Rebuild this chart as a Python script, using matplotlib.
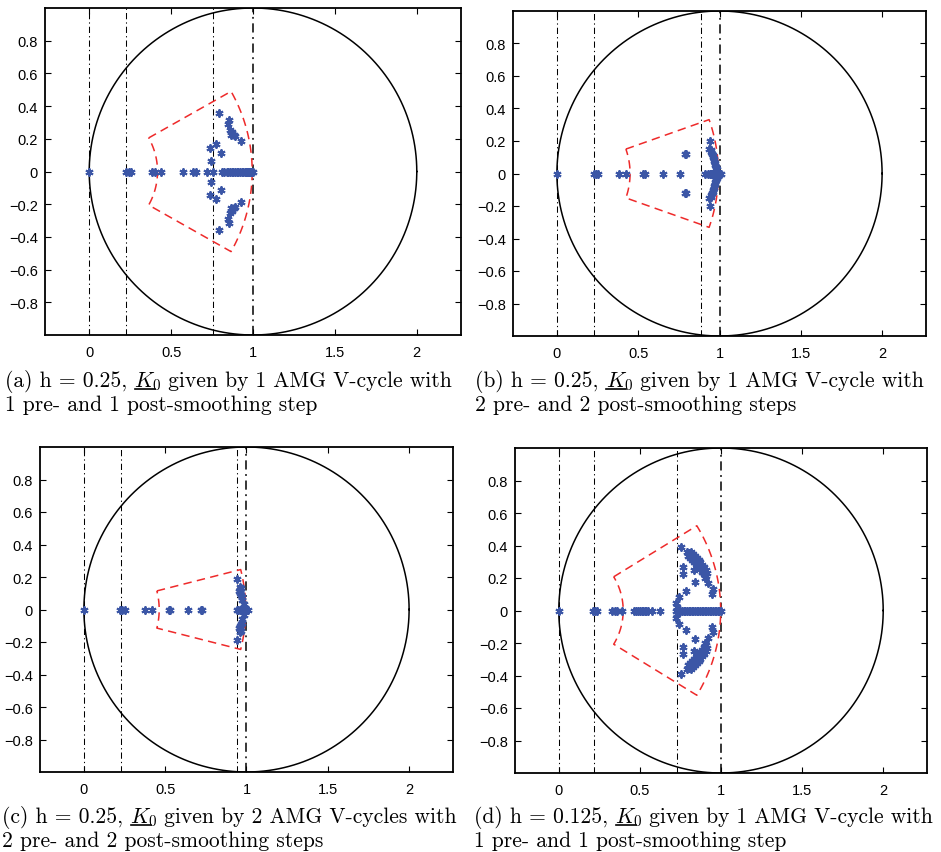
import numpy as np
import matplotlib
matplotlib.use("Agg")
import matplotlib.pyplot as plt
from matplotlib.lines import Line2D

plt.rcParams['mathtext.fontset'] = 'cm'
plt.rcParams['font.family'] = ['Liberation Sans', 'DejaVu Sans']
plt.rcParams['axes.unicode_minus'] = True

# ---------------- data ----------------
x_ticks = [0, 0.5, 1, 1.5, 2]
x_tick_labels = ['0', '0.5', '1', '1.5', '2']
y_ticks = [-0.8, -0.6, -0.4, -0.2, 0, 0.2, 0.4, 0.6, 0.8]
y_tick_labels = ['\u22120.8', '\u22120.6', '\u22120.4', '\u22120.2', '0', '0.2', '0.4', '0.6', '0.8']

# (a) h = 0.25, 1 V-cycle, 1+1 smoothing
a_real = [0.0, 0.226, 0.24, 0.255, 0.385, 0.40, 0.44, 0.57, 0.635, 0.65, 0.72, 0.758,
          0.81, 0.825, 0.84, 0.85, 0.86, 0.87, 0.88, 0.89, 0.90, 0.91, 0.92, 0.93,
          0.94, 0.95, 0.955, 0.96, 0.965, 0.97, 0.975, 0.98, 0.985, 0.99, 0.995, 1.0]
a_up_re = [0.793, 0.854, 0.845, 0.862, 0.872, 0.868, 0.882, 0.893, 0.925, 0.773, 0.737, 0.803, 0.742]
a_up_im = [0.356, 0.315, 0.292, 0.252, 0.240, 0.226, 0.222, 0.215, 0.189, 0.167, 0.141, 0.116, 0.065]
a_lo_re = [0.793, 0.854, 0.845, 0.862, 0.872, 0.868, 0.882, 0.893, 0.925, 0.773, 0.737, 0.803, 0.742]
a_lo_im = [-0.356, -0.315, -0.292, -0.252, -0.240, -0.226, -0.222, -0.215, -0.189, -0.167, -0.141, -0.116, -0.065]
a_vlines = [0.0, 0.226, 0.756, 1.0]
a_sector = [0.417, 0.995, 29.5]   # inner radius, outer radius, half-angle (deg)

# (b) h = 0.25, 1 V-cycle, 2+2 smoothing
b_real = [0.0, 0.227, 0.238, 0.252, 0.381, 0.422, 0.528, 0.539, 0.651, 0.760,
          0.913, 0.93, 0.94, 0.95, 0.955, 0.96, 0.965, 0.97, 0.975, 0.98, 0.985,
          0.99, 0.995, 1.0, 1.01]
b_up_re = [0.785, 0.795, 0.944, 0.937, 0.945, 0.948, 0.953, 0.958, 0.962, 0.965, 0.968, 0.972, 0.975, 0.98, 0.985]
b_up_im = [0.122, 0.122, 0.201, 0.152, 0.142, 0.131, 0.120, 0.111, 0.100, 0.088, 0.078, 0.066, 0.055, 0.042, 0.030]
b_lo_re = [0.785, 0.795, 0.944, 0.937, 0.945, 0.948, 0.953, 0.958, 0.962, 0.965, 0.968, 0.972, 0.975, 0.98, 0.985]
b_lo_im = [-0.122, -0.122, -0.201, -0.152, -0.142, -0.131, -0.120, -0.111, -0.100, -0.088, -0.078, -0.066, -0.055, -0.042, -0.030]
b_vlines = [0.0, 0.227, 0.889, 1.0]
b_sector = [0.45, 0.993, 19.5]

# (c) h = 0.25, 2 V-cycles, 2+2 smoothing
c_real = [0.0, 0.223, 0.233, 0.25, 0.377, 0.42, 0.522, 0.528, 0.643, 0.72, 0.727,
          0.94, 0.95, 0.96, 0.965, 0.97, 0.975, 0.98, 0.985, 0.99, 0.995, 1.0, 1.01]
c_up_re = [0.944, 0.958, 0.965, 0.962, 0.952, 0.958, 0.966, 0.970, 0.975, 0.982]
c_up_im = [0.190, 0.140, 0.135, 0.122, 0.115, 0.100, 0.090, 0.080, 0.060, 0.035]
c_lo_re = [0.944, 0.958, 0.965, 0.962, 0.952, 0.958, 0.966, 0.970, 0.975, 0.982]
c_lo_im = [-0.190, -0.140, -0.135, -0.122, -0.115, -0.100, -0.090, -0.080, -0.060, -0.035]
c_vlines = [0.0, 0.227, 0.941, 1.0]
c_sector = [0.463, 0.995, 14.3]

# (d) h = 0.125, 1 V-cycle, 1+1 smoothing
d_real = [0.0, 0.213, 0.225, 0.237, 0.33, 0.345, 0.356, 0.391, 0.463, 0.475, 0.49,
          0.50, 0.51, 0.52, 0.53, 0.54, 0.55, 0.575, 0.624,
          0.72, 0.73, 0.74, 0.75, 0.76, 0.77, 0.78, 0.79, 0.80, 0.81, 0.82, 0.83,
          0.84, 0.85, 0.86, 0.87, 0.88, 0.89, 0.90, 0.91, 0.92, 0.93, 0.94, 0.95,
          0.96, 0.97, 0.98, 0.99, 1.0]
d_up_re = [0.751, 0.790, 0.766, 0.766, 0.835, 0.841, 0.786, 0.739, 0.725, 0.729,
           0.950, 0.944, 0.919,
           0.800, 0.810, 0.820, 0.830, 0.840, 0.850, 0.860, 0.870, 0.880, 0.890, 0.900, 0.910,
           0.812, 0.825, 0.838, 0.850, 0.862, 0.873, 0.885, 0.895, 0.905, 0.915,
           0.795, 0.808, 0.822, 0.835, 0.848, 0.860, 0.872, 0.883, 0.893, 0.903]
d_up_im = [0.391, 0.360, 0.265, 0.227, 0.248, 0.176, 0.120, 0.084, 0.047, 0.020,
           0.135, 0.104, 0.172,
           0.352, 0.342, 0.330, 0.318, 0.305, 0.293, 0.280, 0.267, 0.254, 0.240, 0.226, 0.210,
           0.362, 0.350, 0.338, 0.325, 0.312, 0.298, 0.283, 0.268, 0.252, 0.233,
           0.337, 0.325, 0.312, 0.298, 0.285, 0.270, 0.255, 0.240, 0.222, 0.198]
d_lo_re = [0.751, 0.790, 0.766, 0.766, 0.835, 0.841, 0.786, 0.739, 0.725, 0.729,
           0.950, 0.944, 0.919,
           0.800, 0.810, 0.820, 0.830, 0.840, 0.850, 0.860, 0.870, 0.880, 0.890, 0.900, 0.910,
           0.812, 0.825, 0.838, 0.850, 0.862, 0.873, 0.885, 0.895, 0.905, 0.915,
           0.795, 0.808, 0.822, 0.835, 0.848, 0.860, 0.872, 0.883, 0.893, 0.903]
d_lo_im = [-0.391, -0.360, -0.265, -0.227, -0.248, -0.176, -0.120, -0.084, -0.047, -0.020,
           -0.135, -0.104, -0.172,
           -0.352, -0.342, -0.330, -0.318, -0.305, -0.293, -0.280, -0.267, -0.254, -0.240, -0.226, -0.210,
           -0.362, -0.350, -0.338, -0.325, -0.312, -0.298, -0.283, -0.268, -0.252, -0.233,
           -0.337, -0.325, -0.312, -0.298, -0.285, -0.270, -0.255, -0.240, -0.222, -0.198]
d_vlines = [0.0, 0.217, 0.731, 1.0]
d_sector = [0.397, 0.998, 31.5]

captions = [
    ("(a) h = 0.25, ", " given by 1 AMG V-cycle with", "1 pre- and 1 post-smoothing step"),
    ("(b) h = 0.25, ", " given by 1 AMG V-cycle with", "2 pre- and 2 post-smoothing steps"),
    ("(c) h = 0.25, ", " given by 2 AMG V-cycles with", "2 pre- and 2 post-smoothing steps"),
    ("(d) h = 0.125, ", " given by 1 AMG V-cycle with", "1 pre- and 1 post-smoothing step"),
]

panels = [
    (a_real, a_up_re, a_up_im, a_lo_re, a_lo_im, a_vlines, a_sector),
    (b_real, b_up_re, b_up_im, b_lo_re, b_lo_im, b_vlines, b_sector),
    (c_real, c_up_re, c_up_im, c_lo_re, c_lo_im, c_vlines, c_sector),
    (d_real, d_up_re, d_up_im, d_lo_re, d_lo_im, d_vlines, d_sector),
]

# ---------------- layout (pixels) ----------------
W, H = 941, 853
boxes = [(45, 9, 461, 336), (513, 12, 926, 337), (40, 448, 453, 773), (515, 449, 927, 774)]
cap_pos = [(5, 387), (475, 387), (2, 823), (474, 823)]
BLUE = '#3B56A6'
RED = '#EE2A2A'

fig = plt.figure(figsize=(W / 100, H / 100), dpi=100)


def draw_panel(ax, real, ure, uim, lre, lim, vlines, sector):
    th = np.linspace(0, 2 * np.pi, 400)
    ax.plot(1 + np.cos(th), np.sin(th), color='black', lw=1.1, zorder=2)
    for i, v in enumerate(vlines):
        ax.axvline(v, color='black', lw=0.75 if i < len(vlines) - 1 else 1.1,
                   linestyle=(0, (6, 3, 1.2, 3)), zorder=1)
    r0, r1, ang = sector
    a = np.deg2rad(ang)
    t_out = np.linspace(a, -a, 60)
    t_in = np.linspace(-a, a, 40)
    xs = np.concatenate([[r0 * np.cos(a)], r1 * np.cos(t_out), r0 * np.cos(t_in)])
    ys = np.concatenate([[r0 * np.sin(a)], r1 * np.sin(t_out), r0 * np.sin(t_in)])
    ax.plot(xs, ys, color=RED, lw=1.1, linestyle=(0, (5.5, 3.5)), zorder=3)
    mk = dict(linestyle='none', marker=(6, 2, 0), markersize=5.8, mew=1.4,
              color=BLUE, mec=BLUE, zorder=4)
    ax.plot(real, np.zeros(len(real)), **mk)
    ax.plot(ure, uim, **mk)
    ax.plot(lre, lim, **mk)
    ax.set_xlim(-0.27, 2.27)
    ax.set_ylim(-1.0, 1.0)
    ax.set_xticks(x_ticks)
    ax.set_xticklabels(x_tick_labels)
    ax.set_yticks(y_ticks)
    ax.set_yticklabels(y_tick_labels)
    ax.tick_params(direction='in', top=True, right=True, length=4, width=0.8,
                   labelsize=10.5, pad=5)
    ax.tick_params(axis='x', pad=7)
    for s in ax.spines.values():
        s.set_linewidth(1.3)


for (l, t, r, b), data in zip(boxes, panels):
    ax = fig.add_axes([l / W, 1 - b / H, (r - l) / W, (b - t) / H])
    draw_panel(ax, *data)

renderer = fig.canvas.get_renderer()
FS = 15.5
for (x, y), (head, tail, line2) in zip(cap_pos, captions):
    yb = H - y
    t1 = fig.text(x / W, yb / H, head, fontfamily='cmr10', fontsize=FS, va='baseline')
    x2 = t1.get_window_extent(renderer).x1
    t2 = fig.text(x2 / W, yb / H, r'$K_0$', fontsize=FS, va='baseline')
    bb2 = t2.get_window_extent(renderer)
    tk = fig.text(x2 / W, yb / H, r'$K$', fontsize=FS, va='baseline')
    bk = tk.get_window_extent(renderer)
    tk.remove()
    fig.add_artist(Line2D([(bk.x0 + 0.5) / W, (bk.x1 - 0.5) / W],
                          [(yb - 2.5) / H, (yb - 2.5) / H],
                          color='black', lw=1.2, transform=fig.transFigure))
    fig.text(bb2.x1 / W, yb / H, tail, fontfamily='cmr10', fontsize=FS, va='baseline')
    fig.text(x / W, (yb - 24) / H, line2, fontfamily='cmr10', fontsize=FS, va='baseline')

fig.savefig('out.png', dpi=100)
